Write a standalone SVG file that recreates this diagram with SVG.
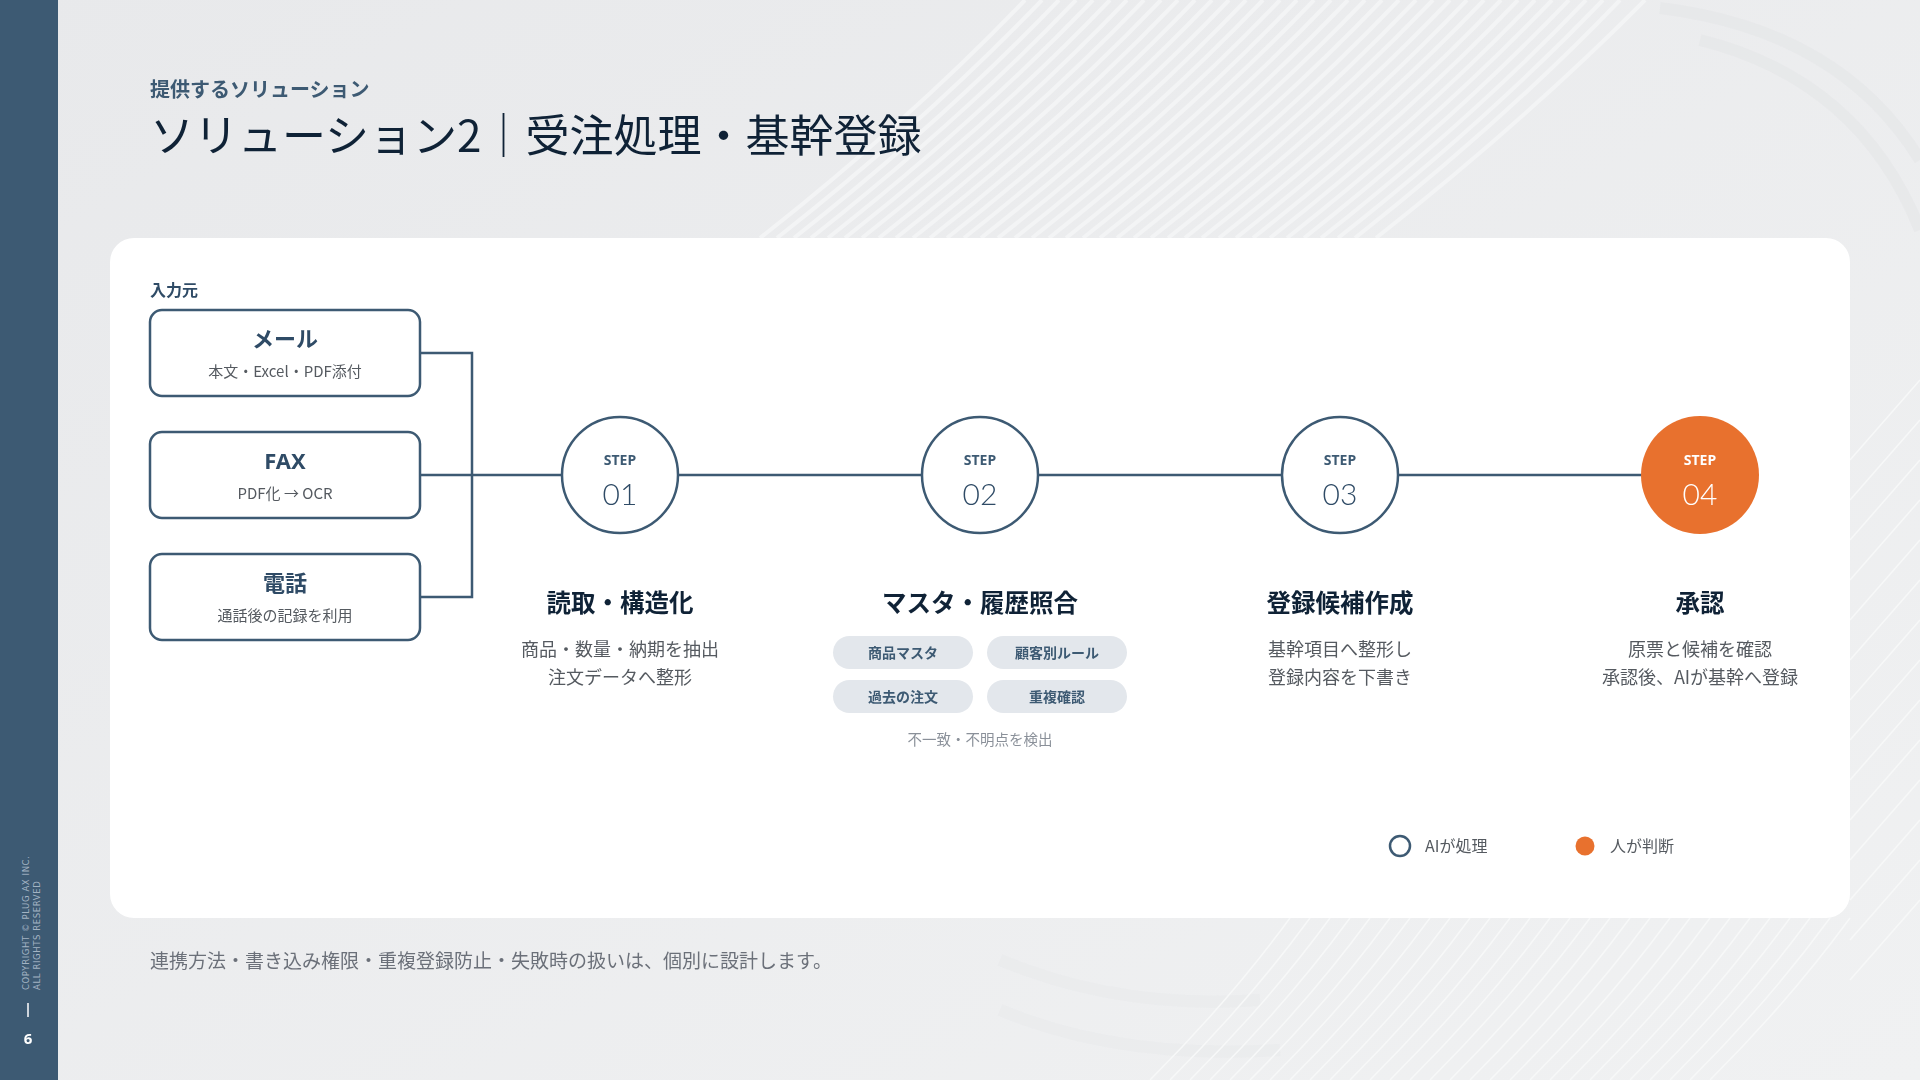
<svg xmlns="http://www.w3.org/2000/svg" width="1920" height="1080" viewBox="0 0 1920 1080">
<defs>
<linearGradient id="bg" x1="0" y1="0" x2="1" y2="1">
<stop offset="0" stop-color="#e8e9eb"/>
<stop offset="1" stop-color="#f0f1f2"/>
</linearGradient>
<linearGradient id="fadeL" x1="0" y1="0" x2="1" y2="0">
<stop offset="0" stop-color="#fff" stop-opacity="0"/>
<stop offset="0.35" stop-color="#fff" stop-opacity="1"/>
<stop offset="1" stop-color="#fff" stop-opacity="1"/>
</linearGradient>
<mask id="m1"><rect x="0" y="0" width="1920" height="1080" fill="url(#fadeL)"/></mask>
<style>
.jp{font-family:"Noto Sans CJK JP","Noto Sans",sans-serif}
.box{fill:#ffffff;stroke:#3d5a73;stroke-width:2.5}
.btitle{font-size:22px;font-weight:700;fill:#2f4b66;text-anchor:middle}
.bsub{font-size:15px;fill:#555a60;text-anchor:middle}
.conn{fill:none;stroke:#3d5a73;stroke-width:2.5}
.circ{fill:#ffffff;stroke:#3d5a73;stroke-width:2.5}
.circ-h{fill:#e8712e}
.step{font-family:"Noto Sans",sans-serif;font-size:14px;font-weight:700;fill:#3d5a73;text-anchor:middle}
.num{font-family:Lato,"Noto Sans",sans-serif;font-size:30px;font-weight:300;fill:#2f4b66;text-anchor:middle}
.stitle{font-size:24.5px;font-weight:700;fill:#0f2236;text-anchor:middle}
.desc{font-size:18px;fill:#555a60;text-anchor:middle}
.pill{fill:#e3e7ec}
.ptext{font-size:14px;font-weight:700;fill:#3d5a73;text-anchor:middle}
.st{fill:none;stroke:#f3f4f5;stroke-width:4}
.st2{fill:none;stroke:#f7f8f8;stroke-width:1.5}
</style>
</defs>
<rect width="1920" height="1080" fill="url(#bg)"/>
<g id="bg-lines">
<g mask="url(#m1)">
<path class="st" d="M760 238 Q910 120 1025 0"/>
<path class="st" d="M777 238 Q927 120 1042 0"/>
<path class="st" d="M794 238 Q944 120 1059 0"/>
<path class="st" d="M811 238 Q961 120 1076 0"/>
<path class="st" d="M828 238 Q978 120 1093 0"/>
<path class="st" d="M845 238 Q995 120 1110 0"/>
<path class="st" d="M862 238 Q1012 120 1127 0"/>
<path class="st" d="M879 238 Q1029 120 1144 0"/>
<path class="st" d="M896 238 Q1046 120 1161 0"/>
<path class="st" d="M913 238 Q1063 120 1178 0"/>
<path class="st" d="M930 238 Q1080 120 1195 0"/>
<path class="st" d="M947 238 Q1097 120 1212 0"/>
<path class="st" d="M964 238 Q1114 120 1229 0"/>
<path class="st" d="M981 238 Q1131 120 1246 0"/>
<path class="st" d="M998 238 Q1148 120 1263 0"/>
<path class="st" d="M1015 238 Q1165 120 1280 0"/>
<path class="st" d="M1032 238 Q1182 120 1297 0"/>
<path class="st" d="M1049 238 Q1199 120 1314 0"/>
<path class="st" d="M1066 238 Q1216 120 1331 0"/>
<path class="st" d="M1083 238 Q1233 120 1348 0"/>
<path class="st" d="M1100 238 Q1250 120 1365 0"/>
<path class="st" d="M1117 238 Q1267 120 1382 0"/>
<path class="st" d="M1134 238 Q1284 120 1399 0"/>
<path class="st" d="M1151 238 Q1301 120 1416 0"/>
<path class="st" d="M1168 238 Q1318 120 1433 0"/>
<path class="st" d="M1185 238 Q1335 120 1450 0"/>
<path class="st" d="M1202 238 Q1352 120 1467 0"/>
<path class="st" d="M1219 238 Q1369 120 1484 0"/>
<path class="st" d="M1236 238 Q1386 120 1501 0"/>
<path class="st" d="M1253 238 Q1403 120 1518 0"/>
<path class="st" d="M1270 238 Q1420 120 1535 0"/>
<path class="st" d="M1287 238 Q1437 120 1552 0"/>
<path class="st" d="M1304 238 Q1454 120 1569 0"/>
<path class="st" d="M1321 238 Q1471 120 1586 0"/>
<path class="st" d="M1338 238 Q1488 120 1603 0"/>
<path class="st" d="M1355 238 Q1505 120 1620 0"/>
<path class="st" d="M1376 238 Q1526 120 1645 0"/>
</g>
<g fill="none" stroke="#e6e7e9" stroke-width="12" opacity="0.7">
<path d="M1660 8 Q1840 30 1920 160"/>
<path d="M1700 40 Q1860 80 1920 230"/>
<path d="M1000 960 Q1120 1010 1260 1000" opacity="0.5"/>
<path d="M1000 1010 Q1120 1060 1280 1050" opacity="0.5"/>
</g>
<g class="st2">
<path d="M1150 1080 Q1230 1000 1290 918"/>
<path d="M1170 1080 Q1250 1000 1310 918"/>
<path d="M1190 1080 Q1270 1000 1330 918"/>
<path d="M1210 1080 Q1290 1000 1350 918"/>
<path d="M1230 1080 Q1310 1000 1370 918"/>
<path d="M1250 1080 Q1330 1000 1390 918"/>
<path d="M1270 1080 Q1350 1000 1410 918"/>
<path d="M1290 1080 Q1370 1000 1430 918"/>
<path d="M1310 1080 Q1390 1000 1450 918"/>
<path d="M1330 1080 Q1410 1000 1470 918"/>
<path d="M1350 1080 Q1430 1000 1490 918"/>
<path d="M1370 1080 Q1450 1000 1510 918"/>
<path d="M1390 1080 Q1470 1000 1530 918"/>
<path d="M1410 1080 Q1490 1000 1550 918"/>
<path d="M1430 1080 Q1510 1000 1570 918"/>
<path d="M1450 1080 Q1530 1000 1590 918"/>
<path d="M1470 1080 Q1550 1000 1610 918"/>
<path d="M1490 1080 Q1570 1000 1630 918"/>
<path d="M1510 1080 Q1590 1000 1650 918"/>
<path d="M1530 1080 Q1610 1000 1670 918"/>
<path d="M1550 1080 Q1630 1000 1690 918"/>
<path d="M1570 1080 Q1650 1000 1710 918"/>
<path d="M1590 1080 Q1670 1000 1730 918"/>
<path d="M1610 1080 Q1690 1000 1750 918"/>
<path d="M1630 1080 Q1710 1000 1770 918"/>
<path d="M1650 1080 Q1730 1000 1790 918"/>
<path d="M1670 1080 Q1750 1000 1810 918"/>
<path d="M1690 1080 Q1770 1000 1830 918"/>
<path d="M1710 1080 Q1790 1000 1850 918"/>
<path d="M1850 980 L1920 900"/>
<path d="M1850 940 L1920 860"/>
<path d="M1850 900 L1920 820"/>
<path d="M1850 860 L1920 780"/>
<path d="M1850 820 L1920 740"/>
<path d="M1850 780 L1920 700"/>
<path d="M1850 740 L1920 660"/>
<path d="M1850 700 L1920 620"/>
<path d="M1850 660 L1920 580"/>
<path d="M1850 620 L1920 540"/>
<path d="M1850 580 L1920 500"/>
<path d="M1850 540 L1920 460"/>
<path d="M1850 500 L1920 420"/>
<path d="M1850 460 L1920 380"/>
</g>
</g>
<g id="sidebar">
<rect x="0" y="0" width="58" height="1080" fill="#3d5a73"/>
<g transform="translate(29,990) rotate(-90)" font-family="'DejaVu Sans',sans-serif" font-size="8.5" fill="#a3b3c3" letter-spacing="0.6">
<text x="0" y="0">COPYRIGHT © PLUG AX INC.</text>
<text x="0" y="11">ALL RIGHTS RESERVED</text>
</g>
<line x1="28" y1="1003" x2="28" y2="1017" stroke="#ffffff" stroke-width="1.5"/>
<text x="28" y="1044" font-family="'Noto Sans',sans-serif" font-size="15" font-weight="700" fill="#ffffff" text-anchor="middle">6</text>
</g>
<g id="header" class="jp">
<text x="150" y="97" font-size="20" font-weight="700" fill="#3d5a73">提供するソリューション</text>
<text x="150" y="152" font-size="44" font-weight="400" fill="#0f2236">ソリューション2｜受注処理・基幹登録</text>
</g>
<rect id="card" x="110" y="238" width="1740" height="680" rx="24" fill="#ffffff"/>
<g id="connectors">
<path class="conn" d="M420 353 H472 V597 H420"/>
<path class="conn" d="M420 475 H1700"/>
</g>
<g class="jp">
<text id="input-label" x="150" y="296" font-size="16" font-weight="700" fill="#2f4b66">入力元</text>
<g id="node-mail">
<rect class="box" x="150" y="310" width="270" height="86" rx="12"/>
<text class="btitle" x="285" y="347">メール</text>
<text class="bsub" x="285" y="377">本文・Excel・PDF添付</text>
</g>
<g id="node-fax">
<rect class="box" x="150" y="432" width="270" height="86" rx="12"/>
<text class="btitle" x="285" y="469" font-family="'Noto Sans',sans-serif">FAX</text>
<text class="bsub" x="285" y="499">PDF化 → OCR</text>
</g>
<g id="node-phone">
<rect class="box" x="150" y="554" width="270" height="86" rx="12"/>
<text class="btitle" x="285" y="591">電話</text>
<text class="bsub" x="285" y="621">通話後の記録を利用</text>
</g>
<g id="step1">
<circle class="circ" cx="620" cy="475" r="58"/>
<text class="step" x="620" y="465">STEP</text>
<text class="num" x="620" y="505">01</text>
<text class="stitle" x="620" y="612">読取・構造化</text>
<text class="desc" x="620" y="656">商品・数量・納期を抽出</text>
<text class="desc" x="620" y="684">注文データへ整形</text>
</g>
<g id="step2">
<circle class="circ" cx="980" cy="475" r="58"/>
<text class="step" x="980" y="465">STEP</text>
<text class="num" x="980" y="505">02</text>
<text class="stitle" x="980" y="612">マスタ・履歴照合</text>
<rect class="pill" x="833" y="636" width="140" height="33" rx="16.5"/>
<rect class="pill" x="987" y="636" width="140" height="33" rx="16.5"/>
<rect class="pill" x="833" y="680" width="140" height="33" rx="16.5"/>
<rect class="pill" x="987" y="680" width="140" height="33" rx="16.5"/>
<text class="ptext" x="903" y="657.5">商品マスタ</text>
<text class="ptext" x="1057" y="657.5">顧客別ルール</text>
<text class="ptext" x="903" y="701.5">過去の注文</text>
<text class="ptext" x="1057" y="701.5">重複確認</text>
<text x="980" y="745" font-size="14.5" fill="#8a9099" text-anchor="middle">不一致・不明点を検出</text>
</g>
<g id="step3">
<circle class="circ" cx="1340" cy="475" r="58"/>
<text class="step" x="1340" y="465">STEP</text>
<text class="num" x="1340" y="505">03</text>
<text class="stitle" x="1340" y="612">登録候補作成</text>
<text class="desc" x="1340" y="656">基幹項目へ整形し</text>
<text class="desc" x="1340" y="684">登録内容を下書き</text>
</g>
<g id="step4">
<circle class="circ-h" cx="1700" cy="475" r="59"/>
<text class="step" x="1700" y="465" style="fill:#ffffff">STEP</text>
<text class="num" x="1700" y="505" style="fill:#ffffff">04</text>
<text class="stitle" x="1700" y="612">承認</text>
<text class="desc" x="1700" y="656">原票と候補を確認</text>
<text class="desc" x="1700" y="684">承認後、AIが基幹へ登録</text>
</g>
<g id="legend">
<circle cx="1400" cy="846" r="10" fill="none" stroke="#3d5a73" stroke-width="2.5"/>
<text x="1425" y="852" font-size="16" fill="#555a60">AIが処理</text>
<circle cx="1585" cy="846" r="9.5" fill="#e8712e"/>
<text x="1610" y="852" font-size="16" fill="#555a60">人が判断</text>
</g>
<text id="footer" x="150" y="968" font-size="19" fill="#6b7079">連携方法・書き込み権限・重複登録防止・失敗時の扱いは、個別に設計します。</text>
</g>
</svg>
